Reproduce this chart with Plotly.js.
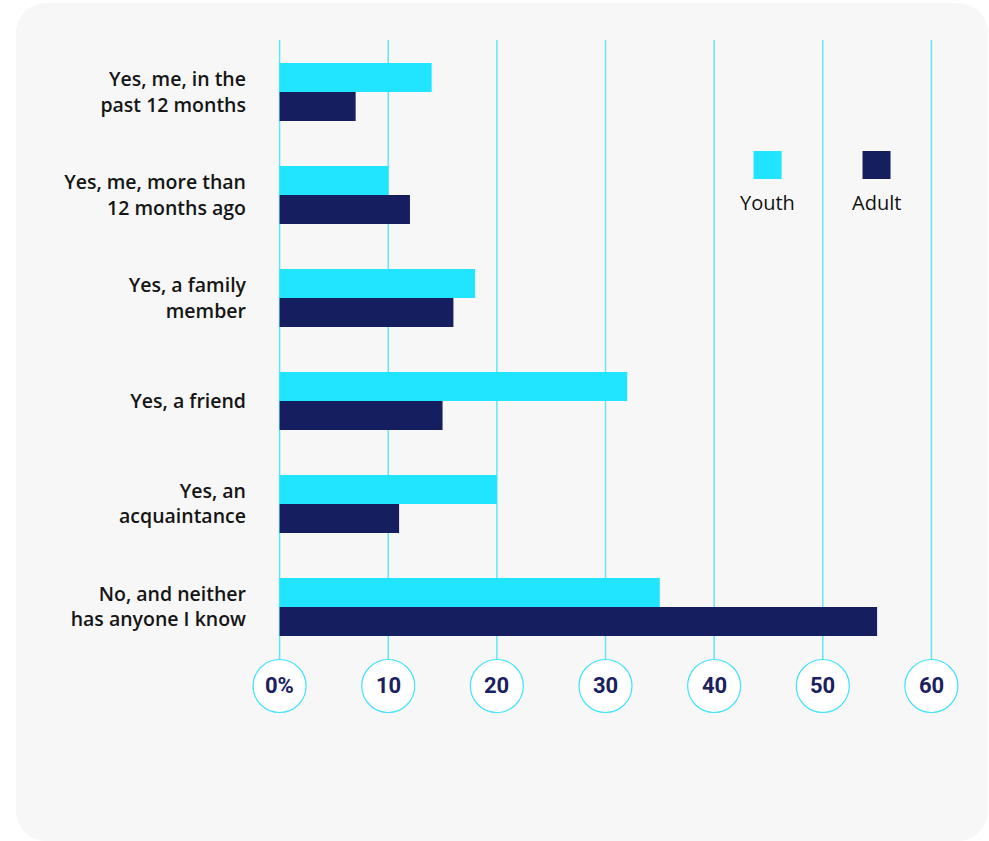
<!DOCTYPE html>
<html>
<head>
<meta charset="utf-8">
<script src="https://cdn.plot.ly/plotly-3.0.1.min.js"></script>
<style>
  html, body { margin: 0; padding: 0; background: #ffffff; }
  #card { position: absolute; left: 16px; top: 3px; width: 972px; height: 838px; background: #f7f7f7; border-radius: 30px; }
  #chart { position: absolute; left: 0; top: 0; width: 989px; height: 841px; }
</style>
</head>
<body>
<div id="card"></div>
<div id="chart"></div>
<script>
const categories = [
  "Yes, me, in the<br>past 12 months",
  "Yes, me, more than<br>12 months ago",
  "Yes, a family<br>member",
  "Yes, a friend",
  "Yes, an<br>acquaintance",
  "No, and neither<br>has anyone I know"
];
const seriesNames = ["Youth", "Adult"];
const youthValues = [14, 10, 18, 32, 20, 35];
const adultValues = [7, 12, 16, 15, 11, 55];
const tickValues = [0, 10, 20, 30, 40, 50, 60];
const tickLabels = ["0%", "10", "20", "30", "40", "50", "60"];

const youthColor = "#21e4ff";
const adultColor = "#151f60";
const gridColor = "#63e6fb";

const traces = [
  { type: "bar", orientation: "h", name: seriesNames[0], y: categories, x: youthValues,
    marker: { color: youthColor, line: { width: 0 } }, hoverinfo: "x+y" },
  { type: "bar", orientation: "h", name: seriesNames[1], y: categories, x: adultValues,
    marker: { color: adultColor, line: { width: 0 } }, hoverinfo: "x+y" }
];

const shapes = [];
const annotations = [];
// grid lines (drawn below bars)
tickValues.forEach(v => {
  shapes.push({ type: "line", xref: "x", yref: "paper", x0: v, x1: v, y0: 0, y1: 1,
    line: { color: gridColor, width: 1.5 }, layer: "below" });
});
// tick circles with labels
tickValues.forEach((v, i) => {
  shapes.push({ type: "circle", xref: "x", yref: "paper", xsizemode: "pixel", ysizemode: "pixel",
    xanchor: v, yanchor: 0, x0: -26.5, x1: 26.5, y0: -26.5, y1: 26.5,
    fillcolor: "#ffffff", line: { color: "#3fe3fd", width: 1.2 }, layer: "above" });
  annotations.push({ xref: "x", yref: "paper", x: v, y: 0, yshift: 1, text: tickLabels[i],
    showarrow: false, xanchor: "center", yanchor: "middle",
    font: { family: "Roboto, sans-serif", size: 22, color: "#1b2160", weight: 700 } });
});
// custom legend
const legendPos = [0.726, 0.878];
const legendColors = [youthColor, adultColor];
seriesNames.forEach((n, i) => {
  shapes.push({ type: "rect", xref: "paper", yref: "paper", xsizemode: "pixel", ysizemode: "pixel",
    xanchor: legendPos[i], yanchor: 0.8065, x0: -14, x1: 14, y0: -14, y1: 14,
    fillcolor: legendColors[i], line: { width: 0 }, layer: "above" });
  annotations.push({ xref: "paper", yref: "paper", x: legendPos[i], y: 0.749, text: n,
    showarrow: false, xanchor: "center", yanchor: "middle",
    font: { family: "'Open Sans', sans-serif", size: 20, color: "#111111", weight: 500 } });
});

const layout = {
  width: 989, height: 841,
  paper_bgcolor: "rgba(0,0,0,0)", plot_bgcolor: "rgba(0,0,0,0)",
  margin: { l: 247, r: 25, t: 40, b: 155 },
  barmode: "group", bargap: 0.437, bargroupgap: 0,
  showlegend: false,
  xaxis: {
    range: [-3, 63], showgrid: false, zeroline: false, showline: false,
    showticklabels: false, ticks: "", fixedrange: true
  },
  yaxis: {
    type: "category", range: [5.767, -0.505], showgrid: false, zeroline: false, showline: false,
    ticks: "", ticklabelstandoff: 0,
    tickfont: { family: "'Open Sans', sans-serif", size: 19.5, color: "#151515", weight: 600 },
    fixedrange: true
  },
  shapes: shapes,
  annotations: annotations
};

Plotly.newPlot("chart", traces, layout, { displayModeBar: false, staticPlot: true });
</script>
</body>
</html>
